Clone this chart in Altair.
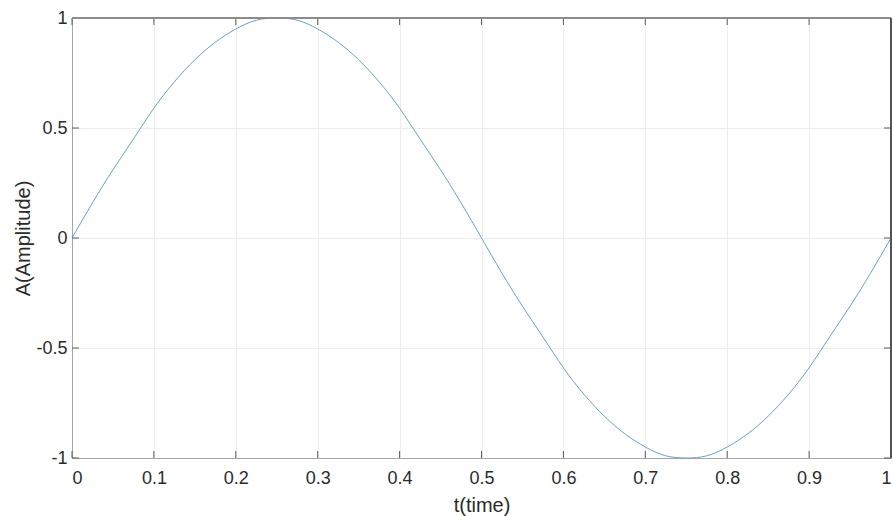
import altair as alt
import pandas as pd

# Sampled signal: time (s) and amplitude
t_values = [0.000, 0.025, 0.050, 0.075, 0.100, 0.125, 0.150, 0.175, 0.200, 0.225,
            0.250, 0.275, 0.300, 0.325, 0.350, 0.375, 0.400, 0.425, 0.450, 0.475,
            0.500, 0.525, 0.550, 0.575, 0.600, 0.625, 0.650, 0.675, 0.700, 0.725,
            0.750, 0.775, 0.800, 0.825, 0.850, 0.875, 0.900, 0.925, 0.950, 0.975,
            1.000]
a_values = [0.00, 0.16, 0.31, 0.45, 0.59, 0.71, 0.81, 0.89, 0.95, 0.99,
            1.00, 0.99, 0.95, 0.89, 0.81, 0.71, 0.59, 0.45, 0.31, 0.16,
            0.00, -0.16, -0.31, -0.45, -0.59, -0.71, -0.81, -0.89, -0.95, -0.99,
            -1.00, -0.99, -0.95, -0.89, -0.81, -0.71, -0.59, -0.45, -0.31, -0.16,
            0.00]

# Tick positions
x_ticks = [0, 0.1, 0.2, 0.3, 0.4, 0.5, 0.6, 0.7, 0.8, 0.9, 1]
y_ticks = [-1, -0.5, 0, 0.5, 1]

W, H = 819, 440
TICK_LEN = 7
FONT = "Liberation Sans"
TEXT = "#2b2b2b"
GRID = "#ededed"

signal = pd.DataFrame({"t": t_values, "A": a_values})
xt = pd.DataFrame({"t": x_ticks})
yt = pd.DataFrame({"A": y_ticks})

x_scale = alt.Scale(domain=[0, 1], nice=False, zero=False)
y_scale = alt.Scale(domain=[-1, 1], nice=False, zero=False)

line = alt.Chart(signal).mark_line(
    color="#6aa3c2", strokeWidth=1, interpolate="natural"
).encode(
    x=alt.X("t:Q", scale=x_scale, title="t(time)",
            axis=alt.Axis(values=x_ticks, labelExpr="'' + datum.value",
                          ticks=False, grid=True, gridColor=GRID,
                          domainColor="#a6a6a6", labelFontSize=18,
                          labelPadding=11, labelColor=TEXT, labelFont=FONT,
                          titleFont=FONT, titleFontSize=20, titleFontWeight="normal",
                          titleColor=TEXT, titlePadding=8)),
    y=alt.Y("A:Q", scale=y_scale, title="A(Amplitude)",
            axis=alt.Axis(values=y_ticks, labelExpr="'' + datum.value",
                          ticks=False, grid=True, gridColor=GRID,
                          domainColor="#a6a6a6", labelFontSize=18,
                          labelPadding=5, labelColor=TEXT, labelFont=FONT,
                          titleFont=FONT, titleFontSize=20, titleFontWeight="normal",
                          titleColor=TEXT, titlePadding=2)),
)

# Inward tick marks on all four sides
tick_color = "#5a5a5a"
x_bottom = alt.Chart(xt).mark_rule(color=tick_color, strokeWidth=1).encode(
    x=alt.X("t:Q", scale=x_scale), y=alt.value(H), y2=alt.value(H - TICK_LEN))
x_top = alt.Chart(xt).mark_rule(color=tick_color, strokeWidth=1).encode(
    x=alt.X("t:Q", scale=x_scale), y=alt.value(0), y2=alt.value(TICK_LEN))
y_left = alt.Chart(yt).mark_rule(color=tick_color, strokeWidth=1).encode(
    y=alt.Y("A:Q", scale=y_scale), x=alt.value(0), x2=alt.value(TICK_LEN))
y_right = alt.Chart(yt).mark_rule(color=tick_color, strokeWidth=1).encode(
    y=alt.Y("A:Q", scale=y_scale), x=alt.value(W), x2=alt.value(W - TICK_LEN))

# Box edges along the top and right
box_top = alt.Chart(signal).mark_rule(color="#8c8c8c", strokeWidth=1).encode(
    x=alt.value(0), x2=alt.value(W), y=alt.value(0))
box_right = alt.Chart(signal).mark_rule(color="#555555", strokeWidth=1.5).encode(
    x=alt.value(W), y=alt.value(0), y2=alt.value(H))

chart = alt.layer(
    line, x_bottom, x_top, y_left, y_right, box_top, box_right
).properties(
    width=W, height=H,
    autosize=alt.AutoSizeParams(type="none"),
    padding={"left": 72, "top": 18, "right": 2, "bottom": 58},
    background="white",
).configure_view(stroke=None)

chart.save("out.html", embed_options={"renderer": "svg", "actions": False})
